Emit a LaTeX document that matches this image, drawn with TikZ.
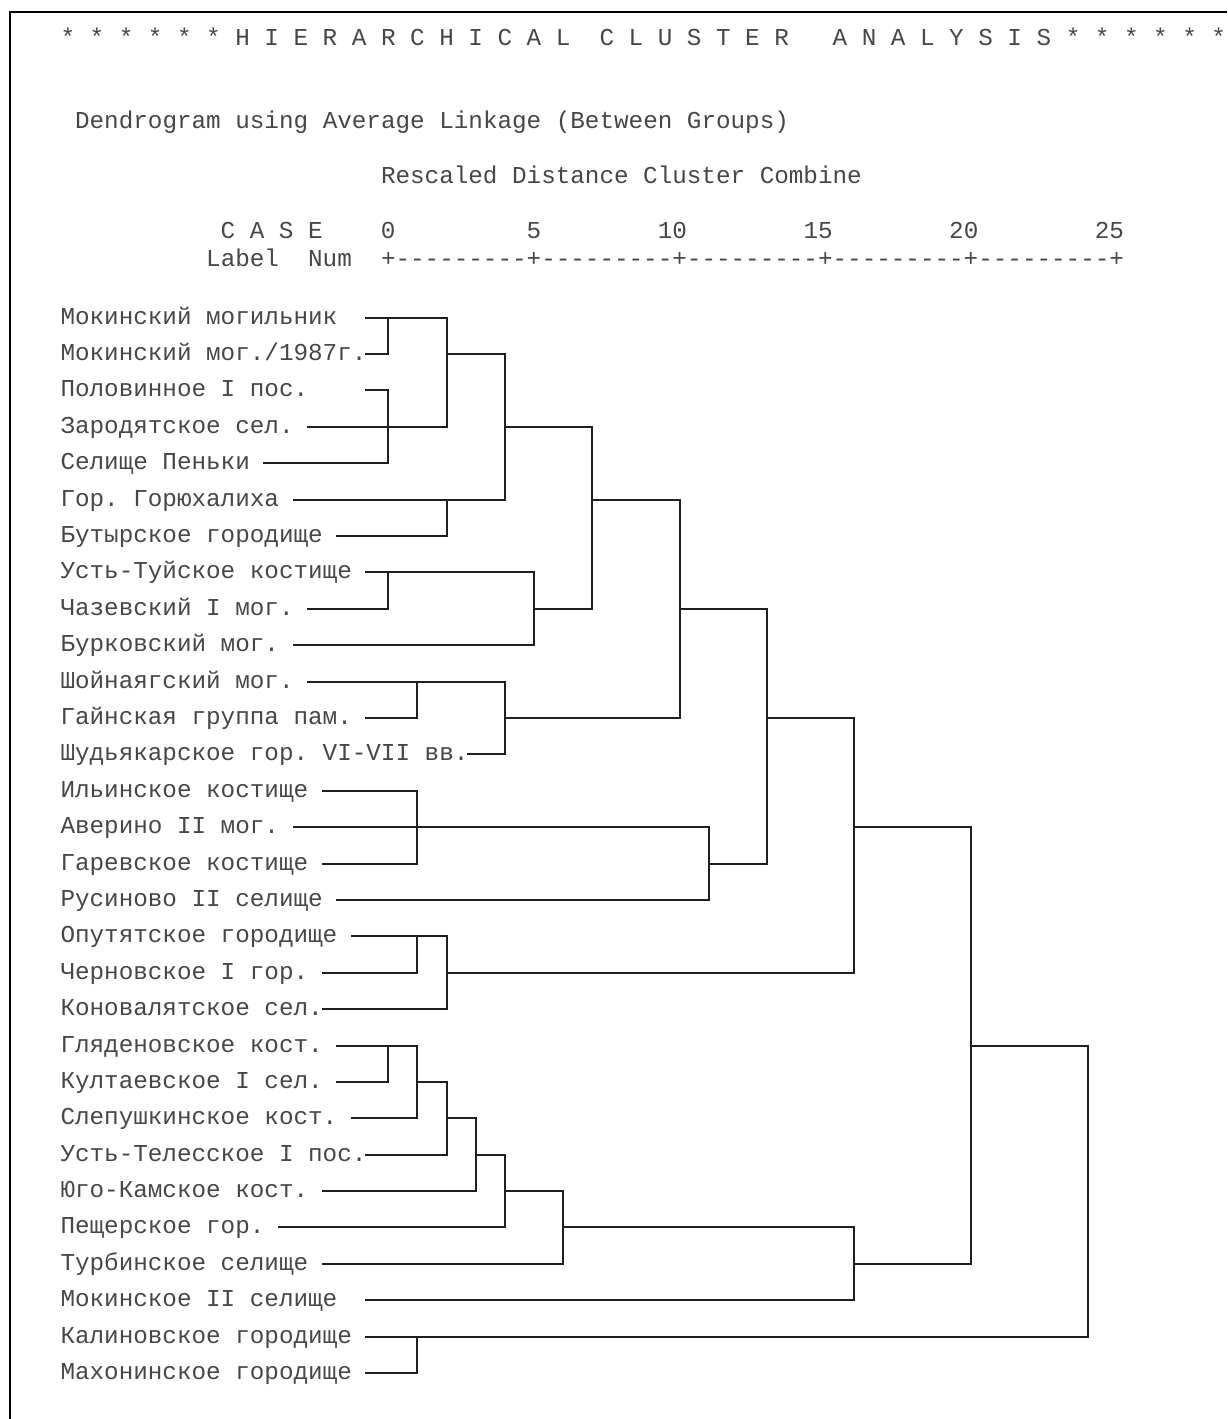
\documentclass[tikz,border=0pt]{standalone}
\usepackage{fontspec}
\setmonofont{Liberation Mono}
\begin{document}
\begin{tikzpicture}[x=1pt,y=-1pt,
  txt/.style={font=\ttfamily\frenchspacing\fontsize{24.28}{29}\selectfont, inner sep=0pt, outer sep=0pt, anchor=base west, text=black!72},
  link/.style={line width=2pt, draw=black!88, line cap=rect},
  frame/.style={line width=2.5pt, draw=black}]
\useasboundingbox[fill=white] (0,0) rectangle (1227,1419);
\draw[frame] (10,1419) -- (10,12) -- (1227,12);
% header
\node[txt] (title) at (60.5,45) {*~*~*~*~*~*~H~I~E~R~A~R~C~H~I~C~A~L~~C~L~U~S~T~E~R~~~A~N~A~L~Y~S~I~S~*~*~*~*~*~*};
\node[txt] (subtitle) at (75.1,128) {Dendrogram using Average Linkage (Between Groups)};
\node[txt] (scaletitle) at (381,183) {Rescaled Distance Cluster Combine};
\node[txt] (caserow) at (220.7,238) {C~A~S~E~~~~0~~~~~~~~~5~~~~~~~~10~~~~~~~~15~~~~~~~~20~~~~~~~~25};
\node[txt] (axisrow) at (206.2,266) {Label~~Num~~+---------+---------+---------+---------+---------+};
% labels and line starts
\foreach \i/\t/\s in {
1/{Мокинский могильник}/21,
2/{Мокинский мог./1987г.}/21,
3/{Половинное I пос.}/21,
4/{Зародятское сел.}/17,
5/{Селище Пеньки}/14,
6/{Гор. Горюхалиха}/16,
7/{Бутырское городище}/19,
8/{Усть-Туйское костище}/21,
9/{Чазевский I мог.}/17,
10/{Бурковский мог.}/16,
11/{Шойнаягский мог.}/17,
12/{Гайнская группа пам.}/21,
13/{Шудьякарское гор. VI-VII вв.}/28,
14/{Ильинское костище}/18,
15/{Аверино II мог.}/16,
16/{Гаревское костище}/18,
17/{Русиново II селище}/19,
18/{Опутятское городище}/20,
19/{Черновское I гор.}/18,
20/{Коновалятское сел.}/18,
21/{Гляденовское кост.}/19,
22/{Култаевское I сел.}/19,
23/{Слепушкинское кост.}/20,
24/{Усть-Телесское I пос.}/21,
25/{Юго-Камское кост.}/18,
26/{Пещерское гор.}/15,
27/{Турбинское селище}/18,
28/{Мокинское II селище}/21,
29/{Калиновское городище}/21,
30/{Махонинское городище}/21}{
  \node[txt] (n\i) at (60.5,{317.7+36.39*(\i-1)+6.5}) {\t};
  \coordinate (s\i) at ({60.5+14.568*\s},{317.7+36.39*(\i-1)});
}
% junction grid
\foreach \c in {22,24,26,28,30,32,34,36,42,44,48,54,62,70}{
  \foreach \r in {1,...,30}{
    \coordinate (c\c r\r) at ({67.8+14.568*\c},{317.7+36.39*(\r-1)});
  }
}
% leaf lines
\draw[link] (s1) -- (c26r1);
\draw[link] (s2) -- (c22r2);
\draw[link] (s3) -- (c22r3);
\draw[link] (s4) -- (c26r4);
\draw[link] (s5) -- (c22r5);
\draw[link] (s6) -- (c30r6);
\draw[link] (s7) -- (c26r7);
\draw[link] (s8) -- (c32r8);
\draw[link] (s9) -- (c22r9);
\draw[link] (s10) -- (c32r10);
\draw[link] (s11) -- (c30r11);
\draw[link] (s12) -- (c24r12);
\draw[link] (s13) -- (c30r13);
\draw[link] (s14) -- (c24r14);
\draw[link] (s15) -- (c44r15);
\draw[link] (s16) -- (c24r16);
\draw[link] (s17) -- (c44r17);
\draw[link] (s18) -- (c26r18);
\draw[link] (s19) -- (c24r19);
\draw[link] (s20) -- (c26r20);
\draw[link] (s21) -- (c24r21);
\draw[link] (s22) -- (c22r22);
\draw[link] (s23) -- (c24r23);
\draw[link] (s24) -- (c26r24);
\draw[link] (s25) -- (c28r25);
\draw[link] (s26) -- (c30r26);
\draw[link] (s27) -- (c34r27);
\draw[link] (s28) -- (c54r28);
\draw[link] (s29) -- (c70r29);
\draw[link] (s30) -- (c24r30);
% verticals
\draw[link] (c22r1) -- (c22r2);
\draw[link] (c22r3) -- (c22r5);
\draw[link] (c22r8) -- (c22r9);
\draw[link] (c22r21) -- (c22r22);
\draw[link] (c24r11) -- (c24r12);
\draw[link] (c24r14) -- (c24r16);
\draw[link] (c24r18) -- (c24r19);
\draw[link] (c24r21) -- (c24r23);
\draw[link] (c24r29) -- (c24r30);
\draw[link] (c26r1) -- (c26r4);
\draw[link] (c26r6) -- (c26r7);
\draw[link] (c26r18) -- (c26r20);
\draw[link] (c26r22) -- (c26r24);
\draw[link] (c28r23) -- (c28r25);
\draw[link] (c30r2) -- (c30r6);
\draw[link] (c30r11) -- (c30r13);
\draw[link] (c30r24) -- (c30r26);
\draw[link] (c32r8) -- (c32r10);
\draw[link] (c34r25) -- (c34r27);
\draw[link] (c36r4) -- (c36r9);
\draw[link] (c42r6) -- (c42r12);
\draw[link] (c44r15) -- (c44r17);
\draw[link] (c48r9) -- (c48r16);
\draw[link] (c54r12) -- (c54r19);
\draw[link] (c54r26) -- (c54r28);
\draw[link] (c62r15) -- (c62r27);
\draw[link] (c70r21) -- (c70r29);
% internal horizontals
\draw[link] (c26r2) -- (c30r2);
\draw[link] (c30r4) -- (c36r4);
\draw[link] (c36r6) -- (c42r6);
\draw[link] (c32r9) -- (c36r9);
\draw[link] (c42r9) -- (c48r9);
\draw[link] (c30r12) -- (c42r12);
\draw[link] (c48r12) -- (c54r12);
\draw[link] (c54r15) -- (c62r15);
\draw[link] (c44r16) -- (c48r16);
\draw[link] (c26r19) -- (c54r19);
\draw[link] (c62r21) -- (c70r21);
\draw[link] (c24r22) -- (c26r22);
\draw[link] (c26r23) -- (c28r23);
\draw[link] (c28r24) -- (c30r24);
\draw[link] (c30r25) -- (c34r25);
\draw[link] (c34r26) -- (c54r26);
\draw[link] (c54r27) -- (c62r27);
\end{tikzpicture}
\end{document}
